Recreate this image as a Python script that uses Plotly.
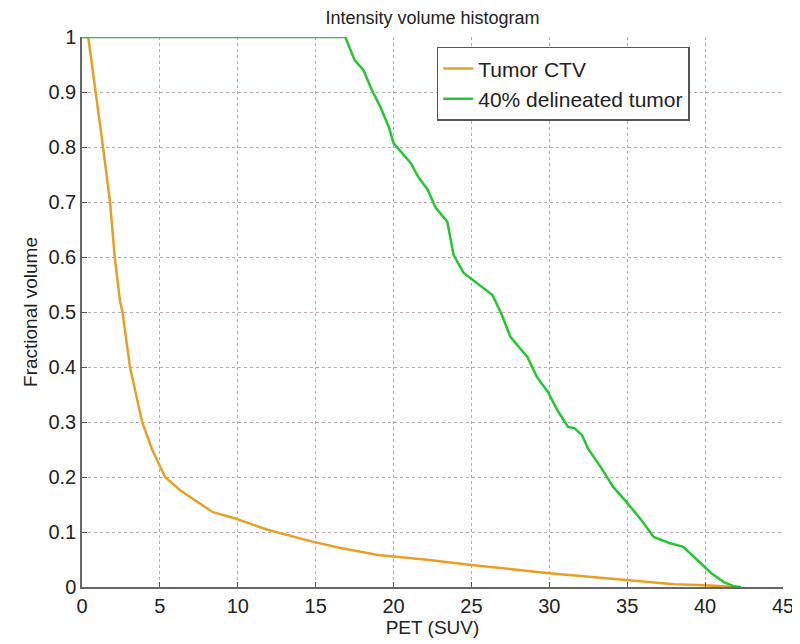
import plotly.graph_objects as go

ctv_x = [0, 0.4, 1.35, 1.8, 2.1, 2.44, 2.6, 3.08, 3.86, 4.5, 5.33, 6.3, 8.4, 9.8, 11.9, 14.85, 16.6, 19.0, 22, 25, 30, 35, 38, 40, 42]
ctv_y = [1.0, 1.0, 0.80, 0.70, 0.60, 0.52, 0.50, 0.40, 0.30, 0.25, 0.20, 0.176, 0.136, 0.125, 0.104, 0.082, 0.071, 0.058, 0.05, 0.04, 0.025, 0.013, 0.005, 0.003, 0.0]

del_x = [0, 16.9, 17.5, 18.06, 18.6, 19.15, 19.7, 20.0, 21.1, 21.6, 22.2, 22.7, 23.45, 23.85, 24.5, 25.26, 26.35, 26.9, 27.5, 28.6, 29.2, 29.9, 30.5, 31.2, 31.6, 32.1, 32.5, 33.3, 34.1, 35.0, 35.9, 36.7, 37.7, 38.6, 39.5, 40.4, 41.2, 41.8, 42.3]
del_y = [1.0, 1.0, 0.958, 0.94, 0.904, 0.873, 0.836, 0.807, 0.771, 0.745, 0.722, 0.69, 0.664, 0.604, 0.571, 0.555, 0.531, 0.498, 0.455, 0.418, 0.382, 0.355, 0.322, 0.291, 0.289, 0.276, 0.251, 0.218, 0.182, 0.153, 0.122, 0.091, 0.080, 0.073, 0.049, 0.025, 0.009, 0.002, 0.0]

x_ticks = [0, 5, 10, 15, 20, 25, 30, 35, 40, 45]
y_ticks = [0, 0.1, 0.2, 0.3, 0.4, 0.5, 0.6, 0.7, 0.8, 0.9, 1]
y_labels = ["0", "0.1", "0.2", "0.3", "0.4", "0.5", "0.6", "0.7", "0.8", "0.9", "1"]

font_family = "Liberation Sans, Arial, sans-serif"

fig = go.Figure()
fig.add_trace(go.Scatter(x=ctv_x, y=ctv_y, mode="lines", name="Tumor CTV",
                         line=dict(color="#E8A024", width=2.5)))
fig.add_trace(go.Scatter(x=del_x, y=del_y, mode="lines", name="40% delineated tumor",
                         line=dict(color="#22C832", width=2.5)))

grid = dict(showgrid=True, gridcolor="#B8A8B8", griddash="dot", gridwidth=1)

fig.update_layout(
    width=800, height=644,
    margin=dict(l=74, r=25, t=29, b=65),
    paper_bgcolor="white", plot_bgcolor="white",
    font=dict(family=font_family, size=20, color="#222222"),
    title=dict(text="Intensity volume histogram", x=0.5, xanchor="center",
               xref="paper", y=1.0, yref="container", yanchor="top",
               pad=dict(t=3), font=dict(size=18)),
    xaxis=dict(range=[0, 45], tickvals=x_ticks, ticks="inside", ticklen=5,
               tickcolor="#555555", showline=True, linecolor="#666666", linewidth=1.5,
               zeroline=False, automargin=False, tickfont=dict(size=20),
               title=dict(text="PET (SUV)", standoff=2, font=dict(size=19)), **grid),
    yaxis=dict(range=[0, 1], tickvals=y_ticks, ticktext=y_labels, ticks="inside", ticklen=5,
               tickcolor="#555555", showline=True, linecolor="#666666", linewidth=1.5,
               zeroline=False, automargin=False, tickfont=dict(size=20),
               title=dict(text="Fractional volume", standoff=6, font=dict(size=19)), **grid),
    legend=dict(x=0.506, y=0.982, xanchor="left", yanchor="top",
                bordercolor="#555555", borderwidth=1.5, bgcolor="white",
                font=dict(size=21), tracegroupgap=0),
)

fig.write_html("out.html")
